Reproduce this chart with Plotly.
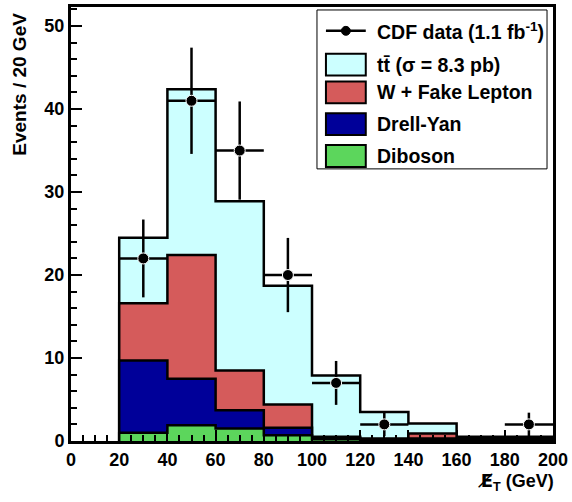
import plotly.graph_objects as go

# ---- data ----
bin_lo = [20, 40, 60, 80, 100, 120, 140, 160, 180]
bin_hi = [40, 60, 80, 100, 120, 140, 160, 180, 200]
bin_centers = [30, 50, 70, 90, 110, 130, 150, 170, 190]

diboson = [1.0, 1.9, 1.5, 0.7, 0.2, 0.1, 0.1, 0.1, 0.1]
drell_yan = [8.7, 5.6, 2.2, 0.9, 0.15, 0.1, 0.2, 0.1, 0.1]
w_fake = [6.9, 14.9, 4.8, 2.8, 0.15, 0.1, 0.6, 0.1, 0.1]
ttbar = [7.9, 20.0, 20.4, 14.3, 7.4, 3.2, 1.2, 0.2, 0.2]

data_counts = [22, 41, 35, 20, 7, 2, 0, 0, 2]

x_ticks = [0, 20, 40, 60, 80, 100, 120, 140, 160, 180, 200]
y_ticks = [0, 10, 20, 30, 40, 50]

colors = {
    "tt": "#CCFFFF",
    "wf": "#D55B5B",
    "dy": "#000099",
    "db": "#5CD65C",
}

# cumulative stacks
cum_db = diboson[:]
cum_dy = [a + b for a, b in zip(cum_db, drell_yan)]
cum_wf = [a + b for a, b in zip(cum_dy, w_fake)]
cum_tt = [a + b for a, b in zip(cum_wf, ttbar)]

FONT = "Liberation Sans"

fig = go.Figure()


def step_trace(vals, color):
    xs = [bin_lo[0]] + bin_lo + [bin_hi[-1], bin_hi[-1]]
    ys = [0] + vals + [vals[-1], 0]
    return go.Scatter(
        x=xs, y=ys, mode="lines", line=dict(shape="hv", color="black", width=2.5),
        fill="tozeroy", fillcolor=color, showlegend=False, hoverinfo="skip",
    )


fig.add_trace(step_trace(cum_tt, colors["tt"]))
fig.add_trace(step_trace(cum_wf, colors["wf"]))
fig.add_trace(step_trace(cum_dy, colors["dy"]))
fig.add_trace(step_trace(cum_db, colors["db"]))

# data points (skip empty bins)
dx = [c for c, n in zip(bin_centers, data_counts) if n > 0]
dy = [n for n in data_counts if n > 0]
dhalf = [(h - l) / 2 for l, h, n in zip(bin_lo, bin_hi, data_counts) if n > 0]
derr = [n ** 0.5 for n in dy]
fig.add_trace(go.Scatter(
    x=dx, y=dy, mode="markers",
    marker=dict(color="black", size=11, line=dict(color="white", width=1)),
    error_x=dict(type="data", array=dhalf, color="black", thickness=2.5, width=0),
    error_y=dict(type="data", array=derr, color="black", thickness=2.5, width=0),
    showlegend=False, hoverinfo="skip",
))

# ---- layout geometry (pixels) ----
W, H = 572, 502
L, R, T, B = 71, 17, 4, 61
PW, PH = W - L - R, H - T - B


def px(x):
    return (x - L) / PW


def py(y):
    return (H - B - y) / PH


shapes = []
annotations = []

# legend box
shapes.append(dict(type="rect", xref="paper", yref="paper",
                   x0=px(318), x1=px(549), y0=py(167), y1=py(7),
                   line=dict(color="black", width=1), fillcolor="white", layer="above"))

legend_rows = [
    ("CDF data (1.1 fb<sup>-1</sup>)", None, 28),
    ("tt\u0304 (\u03c3 = 8.3 pb)", colors["tt"], 62),
    ("W + Fake Lepton", colors["wf"], 90),
    ("Drell-Yan", colors["dy"], 122),
    ("Diboson", colors["db"], 154),
]
for text, col, yc in legend_rows:
    if col is None:
        shapes.append(dict(type="line", xref="paper", yref="paper",
                           x0=px(327), x1=px(367), y0=py(yc), y1=py(yc),
                           line=dict(color="black", width=2.5), layer="above"))
        shapes.append(dict(type="circle", xref="paper", yref="paper",
                           x0=px(342.5), x1=px(351.5), y0=py(yc + 4.5), y1=py(yc - 4.5),
                           line=dict(color="black", width=1), fillcolor="black", layer="above"))
    else:
        shapes.append(dict(type="rect", xref="paper", yref="paper",
                           x0=px(327), x1=px(367), y0=py(yc + 11), y1=py(yc - 11),
                           line=dict(color="black", width=2), fillcolor=col, layer="above"))
    annotations.append(dict(xref="paper", yref="paper", x=px(376), y=py(yc),
                            xanchor="left", yanchor="middle", text=text, showarrow=False,
                            font=dict(family=FONT, size=19.5, color="black", weight="bold")))

# axis titles
annotations.append(dict(xref="paper", yref="paper", x=px(19), y=py(8),
                        xanchor="center", yanchor="top", textangle=-90,
                        text="Events / 20 GeV", showarrow=False,
                        font=dict(family=FONT, size=19, color="black", weight="bold")))
annotations.append(dict(xref="paper", yref="paper", x=px(558), y=py(482),
                        xanchor="right", yanchor="middle",
                        text="<span style=\"font-family:'DejaVu Sans'\">E\u0338</span><sub>T</sub> (GeV)",
                        showarrow=False,
                        font=dict(family=FONT, size=18, color="black", weight="bold")))

tickfont = dict(family=FONT, size=18, color="black", weight="bold")

fig.update_layout(
    width=W, height=H,
    margin=dict(l=L, r=R, t=T, b=B),
    paper_bgcolor="white", plot_bgcolor="white",
    showlegend=False,
    shapes=shapes, annotations=annotations,
    xaxis=dict(
        range=[0, 200], tickvals=x_ticks, ticktext=[str(v) for v in x_ticks],
        ticks="inside", ticklen=11, tickwidth=2, tickcolor="black",
        minor=dict(dtick=5, tick0=0, ticks="inside", ticklen=6, tickwidth=2, tickcolor="black", showgrid=False),
        showline=True, linecolor="black", linewidth=3, mirror=True,
        showgrid=False, zeroline=False, tickfont=tickfont,
    ),
    yaxis=dict(
        range=[0, 52.3], tickvals=y_ticks, ticktext=[str(v) for v in y_ticks],
        ticks="inside", ticklen=11, tickwidth=2, tickcolor="black",
        minor=dict(dtick=2, tick0=0, ticks="inside", ticklen=6, tickwidth=2, tickcolor="black", showgrid=False),
        showline=True, linecolor="black", linewidth=3, mirror=True,
        showgrid=False, zeroline=False, tickfont=tickfont,
    ),
)

fig.write_html("out.html", config={"displayModeBar": False},
               post_script="document.body.style.margin='0px';document.body.style.overflow='hidden';")
